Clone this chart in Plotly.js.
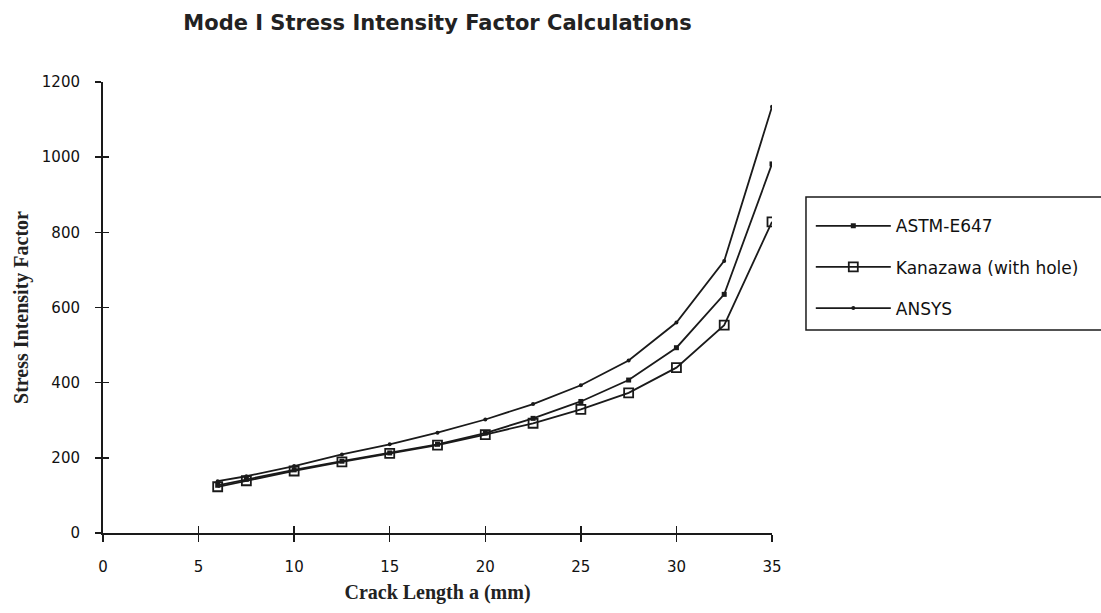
<!DOCTYPE html>
<html>
<head>
<meta charset="utf-8">
<script src="https://cdn.plot.ly/plotly-3.0.1.min.js"></script>
<style>
  html, body { margin: 0; padding: 0; background: #fff; }
  #chart { width: 1101px; height: 613px; }
</style>
</head>
<body>
<div id="chart"></div>
<script>
// Crack length a (mm)
const crackLength = [6, 7.5, 10, 12.5, 15, 17.5, 20, 22.5, 25, 27.5, 30, 32.5, 35];
// Stress intensity factor series
const astmE647 = [127, 143, 168, 191, 213, 236, 266, 305, 350, 407, 493, 635, 982];
const kanazawa = [123, 139, 165, 189, 212, 234, 262, 292, 329, 373, 440, 553, 828];
const ansys    = [138, 151, 178, 209, 236, 267, 302, 343, 393, 459, 560, 724, 1134];
const seriesNames = ["ASTM-E647", "Kanazawa (with hole)", "ANSYS"];
const xTickVals = [0, 5, 10, 15, 20, 25, 30, 35];
const yTickVals = [0, 200, 400, 600, 800, 1000, 1200];

const ink = "#1a1a1a";
const tickFont = { family: "DejaVu Sans, sans-serif", size: 15, color: "#111" };
const serifBold = { family: "Liberation Serif, Times New Roman, serif", size: 20, color: "#222", weight: "bold" };

const traces = [
  {
    x: crackLength, y: astmE647, name: seriesNames[0], mode: "lines+markers",
    legendgroup: "a",
    line: { color: ink, width: 1.8 },
    marker: { symbol: "square", size: 5, color: ink }
  },
  {
    x: crackLength, y: kanazawa, name: seriesNames[1], mode: "lines+markers",
    legendgroup: "b",
    line: { color: ink, width: 1.8 },
    marker: { symbol: "square-open", size: 9, color: ink, line: { width: 1.8, color: ink } }
  },
  {
    x: crackLength, y: ansys, name: seriesNames[2], mode: "lines+markers",
    legendgroup: "c",
    line: { color: ink, width: 1.8 },
    marker: { symbol: "circle", size: 4, color: ink }
  },
  {
    x: crackLength, y: ansys, xaxis: "x2", yaxis: "y2", mode: "markers",
    marker: { opacity: 0 }, showlegend: false, hoverinfo: "skip"
  }
];

const layout = {
  width: 1101, height: 613,
  paper_bgcolor: "#fff", plot_bgcolor: "#fff",
  margin: { l: 103, r: 329, t: 82, b: 80 },
  showlegend: true,
  title: {
    text: "Mode I Stress Intensity Factor Calculations",
    font: { family: "DejaVu Sans, sans-serif", size: 21, color: "#222", weight: "bold" },
    x: 0.5, xref: "paper", xanchor: "center",
    y: 0.963, yref: "container", yanchor: "middle"
  },
  xaxis: {
    range: [0, 35], tickvals: xTickVals, ticktext: xTickVals.map(String),
    showgrid: false, zeroline: false,
    showline: true, linecolor: ink, linewidth: 2,
    ticks: "outside", ticklen: 7, tickwidth: 1.5, tickcolor: ink,
    ticklabelstandoff: 12,
    tickfont: tickFont,
    title: { text: "Crack Length a (mm)", font: serifBold, standoff: 10 }
  },
  yaxis: {
    range: [0, 1200], tickvals: yTickVals, ticktext: yTickVals.map(String),
    showgrid: false, zeroline: false,
    showline: true, linecolor: ink, linewidth: 2,
    ticks: "outside", ticklen: 6, tickwidth: 1.5, tickcolor: ink,
    ticklabelstandoff: 12,
    tickfont: tickFont,
    title: { text: "Stress Intensity Factor", font: serifBold, standoff: 8 }
  },
  xaxis2: {
    overlaying: "x", anchor: "y2", range: [0, 35], tickvals: xTickVals,
    showticklabels: false, showgrid: false, zeroline: false, showline: false,
    ticks: "inside", ticklen: 7, tickwidth: 1.5, tickcolor: ink, side: "bottom"
  },
  yaxis2: {
    overlaying: "y", anchor: "x2", range: [0, 1200], tickvals: yTickVals,
    showticklabels: false, showgrid: false, zeroline: false, showline: false,
    ticks: "inside", ticklen: 6, tickwidth: 1.5, tickcolor: ink, side: "left"
  },
  legend: {
    x: 1.058, xanchor: "left", y: 0.72, yanchor: "top",
    borderwidth: 0, bgcolor: "rgba(0,0,0,0)",
    font: { family: "DejaVu Sans, sans-serif", size: 17, color: "#111" },
    traceorder: "grouped", tracegroupgap: 16, itemwidth: 75
  },
  shapes: [
    {
      type: "rect", xref: "paper", yref: "paper",
      x0: 1.0508, x1: 1.6, y0: 0.450, y1: 0.745,
      line: { color: ink, width: 1.5 }, fillcolor: "rgba(0,0,0,0)", layer: "above"
    }
  ]
};

Plotly.newPlot("chart", traces, layout, { displayModeBar: false, staticPlot: true });
</script>
</body>
</html>
